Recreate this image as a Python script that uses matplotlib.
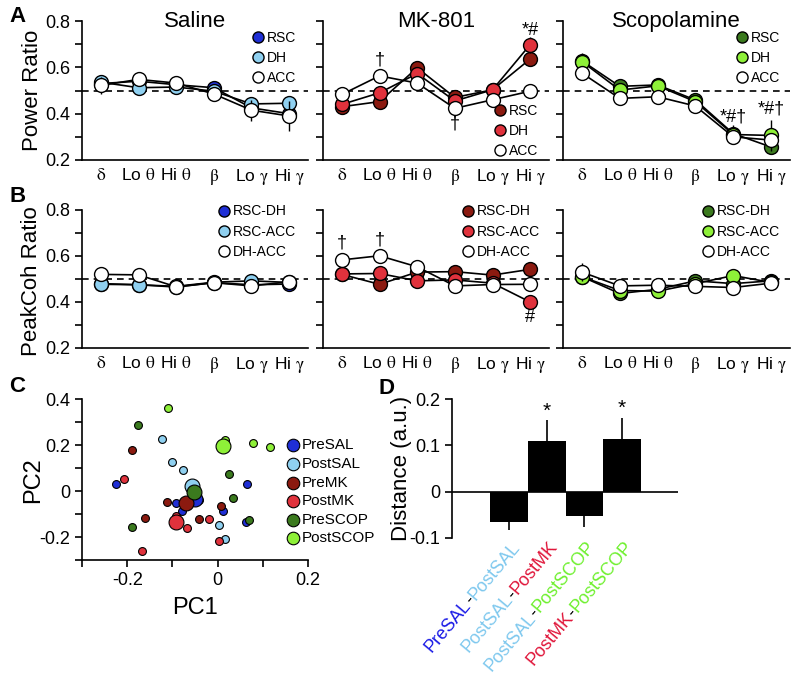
import numpy as np
import matplotlib
matplotlib.use('Agg')
import matplotlib.pyplot as plt
from matplotlib.lines import Line2D
from matplotlib.transforms import IdentityTransform

plt.rcParams['font.family'] = ['Liberation Sans', 'DejaVu Sans']
plt.rcParams['mathtext.fontset'] = 'stix'
plt.rcParams['axes.unicode_minus'] = False
plt.rcParams['axes.linewidth'] = 1.2

bands = [r'$\mathrm{\delta}$', r'Lo $\mathrm{\theta}$', r'Hi $\mathrm{\theta}$',
         r'$\mathrm{\beta}$', r'Lo $\mathrm{\gamma}$', r'Hi $\mathrm{\gamma}$']

# A: power ratio
sal_rsc = [0.530, 0.540, 0.525, 0.512, 0.425, 0.400]
sal_dh = [0.536, 0.512, 0.515, 0.497, 0.442, 0.445]
sal_acc = [0.522, 0.548, 0.532, 0.485, 0.415, 0.390]
sal_acc_err = [0.035, 0.02, 0.02, 0.02, 0.045, 0.065]
mk_rsc = [0.430, 0.452, 0.598, 0.470, 0.503, 0.636]
mk_dh = [0.440, 0.490, 0.573, 0.455, 0.503, 0.698]
mk_acc = [0.483, 0.563, 0.532, 0.423, 0.460, 0.497]
mk_dh_err = [0.02, 0.02, 0.02, 0.02, 0.02, 0.035]
scop_rsc = [0.628, 0.518, 0.524, 0.459, 0.314, 0.256]
scop_dh = [0.625, 0.502, 0.520, 0.452, 0.310, 0.306]
scop_acc = [0.575, 0.466, 0.473, 0.433, 0.300, 0.286]
scop_dh_err = [0.035, 0.02, 0.02, 0.02, 0.04, 0.065]

# B: peak coherence ratio
sal_rsc_dh = [0.480, 0.475, 0.465, 0.484, 0.475, 0.478]
sal_rsc_acc = [0.477, 0.475, 0.468, 0.486, 0.492, 0.485]
sal_dh_acc = [0.520, 0.518, 0.466, 0.484, 0.470, 0.488]
mk_rsc_dh = [0.520, 0.477, 0.530, 0.532, 0.517, 0.542]
mk_rsc_acc = [0.522, 0.524, 0.492, 0.496, 0.482, 0.400]
mk_dh_acc = [0.583, 0.601, 0.553, 0.470, 0.476, 0.477]
scop_rsc_dh = [0.510, 0.437, 0.455, 0.492, 0.480, 0.492]
scop_rsc_acc = [0.510, 0.450, 0.447, 0.480, 0.515, 0.485]
scop_dh_acc = [0.530, 0.470, 0.473, 0.468, 0.463, 0.482]
scop_dh_acc_err = [0.04, 0.02, 0.02, 0.02, 0.02, 0.02]
zero_err = [0, 0, 0, 0, 0, 0]

# C: PCA scatter
pre_sal_x = [-0.224, 0.064, 0.013, -0.093, -0.079, -0.042, 0.063]
pre_sal_y = [0.029, 0.029, -0.088, -0.053, -0.085, -0.041, -0.136]
post_sal_x = [-0.124, -0.101, -0.076, 0.004, 0.017]
post_sal_y = [0.225, 0.127, 0.093, -0.146, -0.209]
pre_mk_x = [-0.189, -0.111, -0.161, -0.041, 0.007]
pre_mk_y = [0.178, -0.048, -0.117, -0.121, -0.067]
post_mk_x = [-0.206, -0.019, -0.067, -0.168, 0.004, -0.093]
post_mk_y = [0.054, -0.121, -0.161, -0.263, -0.219, -0.107]
pre_scop_x = [-0.176, 0.026, 0.035, 0.069, -0.189]
pre_scop_y = [0.288, 0.073, -0.031, -0.128, -0.155]
post_scop_x = [-0.110, 0.017, 0.079, 0.117]
post_scop_y = [0.363, 0.222, 0.207, 0.193]
centroid_x = [-0.050, -0.057, -0.070, -0.091, -0.052, 0.011]
centroid_y = [-0.035, 0.020, -0.053, -0.136, -0.004, 0.197]
groups = ['PreSAL', 'PostSAL', 'PreMK', 'PostMK', 'PreSCOP', 'PostSCOP']

# D: distances
d_vals = [-0.065, 0.110, -0.053, 0.113]
d_err = [0.017, 0.045, 0.024, 0.047]
d_sig = ['', '*', '', '*']
d_labels = [[('PreSAL', '#1a1ae6'), ('-', 'k'), ('PostSAL', '#7ec8ee')],
            [('PostSAL', '#7ec8ee'), ('-', 'k'), ('PostMK', '#e0163a')],
            [('PostSAL', '#7ec8ee'), ('-', 'k'), ('PostSCOP', '#6ef02e')],
            [('PostMK', '#e0163a'), ('-', 'k'), ('PostSCOP', '#6ef02e')]]

sal_cols = ['#1f2fd6', '#8fd0f0', 'white']
mk_cols = ['#8b1a10', '#e0323c', 'white']
scop_cols = ['#3b7a1e', '#8ef038', 'white']

W, H = 800, 679
fig = plt.figure(figsize=(8, 6.79), dpi=100)


def axes_px(left, top, right, bottom):
    return fig.add_axes([left / W, 1 - bottom / H, (right - left) / W, (bottom - top) / H])


def band_panel(ax, series, errs, colors, names, leg_xy, marks, show_y):
    x = np.arange(len(bands))
    ax.axhline(0.5, color='k', lw=1.2, ls=(0, (4, 3)), zorder=1)
    for y, e, c in zip(series, errs, colors):
        ax.errorbar(x, y, yerr=e, fmt='none', ecolor='k', elinewidth=1, capsize=0, zorder=3)
        ax.plot(x, y, '-o', color='k', lw=1.2, mfc=c, mec='k', mew=1, ms=10, zorder=3)
    for y, i, s, off in marks:
        ax.annotate(s, (x[i], y[i]), xytext=(0, off), textcoords='offset pixels',
                    ha='center', va='center', fontsize=13)
    ax.set_xlim(-0.5, 5.5)
    ax.set_ylim(0.2, 0.8)
    ax.set_yticks([0.2, 0.4, 0.6, 0.8])
    ax.set_yticks([0.3, 0.5, 0.7], minor=True)
    ax.set_xticks(x)
    ax.set_xticklabels(bands, fontsize=12.5)
    ax.tick_params(axis='x', length=0, pad=5)
    ax.tick_params(axis='y', which='both', direction='out', length=5, width=1.2, labelsize=13)
    if not show_y:
        ax.set_yticklabels([])
    for s in ['top', 'right']:
        ax.spines[s].set_visible(False)
    handles = [Line2D([], [], ls='none', marker='o', ms=8, mfc=c, mec='k', mew=1) for c in colors]
    ax.legend(handles, names, loc='upper left', bbox_to_anchor=leg_xy, frameon=False,
              fontsize=10, borderpad=0, borderaxespad=0, handlelength=0.8,
              handletextpad=0.2, labelspacing=0.45)


pw_names = ['RSC', 'DH', 'ACC']
coh_names = ['RSC-DH', 'RSC-ACC', 'DH-ACC']
tops = [(82, 308), (323, 549), (563, 790)]

axA = [axes_px(l, 21, r, 160) for l, r in tops]
band_panel(axA[0], [sal_rsc, sal_dh, sal_acc], [zero_err, zero_err, sal_acc_err], sal_cols,
           pw_names, (0.755, 0.93), [], True)
band_panel(axA[1], [mk_rsc, mk_dh, mk_acc], [zero_err, mk_dh_err, zero_err], mk_cols,
           pw_names, (0.76, 0.405),
           [(mk_acc, 1, '†', 16), (mk_acc, 3, '†', -16), (mk_dh, 5, '*#', 14)], False)
band_panel(axA[2], [scop_rsc, scop_dh, scop_acc], [zero_err, scop_dh_err, zero_err], scop_cols,
           pw_names, (0.765, 0.93),
           [(scop_rsc, 4, '*#†', 17), (scop_dh, 5, '*#†', 26)], False)
for ax, t in zip(axA, ['Saline', 'MK-801', 'Scopolamine']):
    ax.text(0.5, 1.0, t, transform=ax.transAxes, ha='center', va='center', fontsize=16)

axB = [axes_px(l, 210, r, 348) for l, r in tops]
band_panel(axB[0], [sal_rsc_dh, sal_rsc_acc, sal_dh_acc], [zero_err] * 3, sal_cols,
           coh_names, (0.605, 1.04), [], True)
band_panel(axB[1], [mk_rsc_dh, mk_rsc_acc, mk_dh_acc], [zero_err] * 3, mk_cols,
           coh_names, (0.618, 1.04),
           [(mk_dh_acc, 0, '†', 17), (mk_dh_acc, 1, '†', 16), (mk_rsc_acc, 5, '#', -15)], False)
band_panel(axB[2], [scop_rsc_dh, scop_rsc_acc, scop_dh_acc], [zero_err, zero_err, scop_dh_acc_err],
           scop_cols, coh_names, (0.615, 1.04), [], False)

fig.text(32 / W, 1 - 90 / H, 'Power Ratio', rotation=90, ha='center', va='center', fontsize=16)
fig.text(32 / W, 1 - 281 / H, 'PeakCoh Ratio', rotation=90, ha='center', va='center', fontsize=16)

# C
axC = axes_px(82, 399, 308, 560)
grp_cols = ['#1f2fd6', '#8fd0f0', '#8b1a10', '#e0323c', '#3b7a1e', '#8ef038']
pts = [(pre_sal_x, pre_sal_y), (post_sal_x, post_sal_y), (pre_mk_x, pre_mk_y),
       (post_mk_x, post_mk_y), (pre_scop_x, pre_scop_y), (post_scop_x, post_scop_y)]
for (px, py), c, g in zip(pts, grp_cols, groups):
    axC.scatter(px, py, s=32, color=c, edgecolor='k', linewidth=0.8, zorder=2, label=g)
for cx, cy, c in zip(centroid_x, centroid_y, grp_cols):
    axC.scatter([cx], [cy], s=115, color=c, edgecolor='k', linewidth=0.8, zorder=3)
axC.set_xlim(-0.3, 0.2)
axC.set_ylim(-0.3, 0.4)
axC.set_xticks([-0.3, -0.2, -0.1, 0, 0.1, 0.2])
axC.set_xticklabels(['', '-0.2', '', '0', '', '0.2'])
axC.set_yticks([-0.3, -0.2, -0.1, 0, 0.1, 0.2, 0.3, 0.4])
axC.set_yticklabels(['', '-0.2', '', '0', '', '0.2', '', '0.4'])
axC.tick_params(direction='out', length=5, width=1.2, labelsize=13)
for s in ['top', 'right']:
    axC.spines[s].set_visible(False)
axC.set_xlabel('PC1', fontsize=17, labelpad=6)
fig.text(33 / W, 1 - 480 / H, 'PC2', rotation=90, ha='center', va='center', fontsize=17)
axC.legend(loc='upper left', bbox_to_anchor=(0.905, 0.755), frameon=False, fontsize=11,
           borderpad=0, borderaxespad=0, handlelength=0.8, handletextpad=0.2,
           labelspacing=0.3, scatterpoints=1, markerscale=1.6)

# D
axD = axes_px(452, 399, 678, 538)
xd = np.arange(len(d_vals))
axD.bar(xd, d_vals, width=1.0, color='k', zorder=2)
lower = [e if v < 0 else 0 for v, e in zip(d_vals, d_err)]
upper = [e if v > 0 else 0 for v, e in zip(d_vals, d_err)]
axD.errorbar(xd, d_vals, yerr=[lower, upper], fmt='none', ecolor='k', elinewidth=1.2, capsize=0)
for i, s in enumerate(d_sig):
    if s:
        axD.annotate(s, (xd[i], d_vals[i] + d_err[i]), xytext=(0, 9), textcoords='offset pixels',
                     ha='center', va='center', fontsize=15)
axD.axhline(0, color='k', lw=1.2)
axD.set_xlim(-1.52, 4.49)
axD.set_ylim(-0.1, 0.2)
axD.set_yticks([-0.1, 0, 0.1, 0.2])
axD.set_yticklabels(['-0.1', '0', '0.1', '0.2'])
axD.set_xticks([])
axD.tick_params(direction='out', length=5, width=1.2, labelsize=13)
for s in ['top', 'right', 'bottom']:
    axD.spines[s].set_visible(False)
fig.text(401 / W, 1 - 468 / H, 'Distance (a.u.)', rotation=90, ha='center', va='center', fontsize=16)

# multicolour rotated labels under the bars
fig.canvas.draw()
rend = fig.canvas.get_renderer()
ang = np.deg2rad(50)
for i, parts in enumerate(d_labels):
    widths = []
    for s, c in parts:
        t = fig.text(0, 0, s, fontsize=13)
        widths.append(t.get_window_extent(rend).width)
        t.remove()
    ex, ey = axD.transData.transform((xd[i], -0.1))
    ex, ey = ex + 8, ey - 6
    sx = ex - sum(widths) * np.cos(ang)
    sy = ey - sum(widths) * np.sin(ang)
    cum = 0
    for (s, c), w in zip(parts, widths):
        fig.text(sx + cum * np.cos(ang), sy + cum * np.sin(ang), s, color=c, fontsize=13,
                 rotation=50, rotation_mode='anchor', ha='left', va='center',
                 transform=IdentityTransform())
        cum += w

for lab, (px, py) in zip('ABCD', [(18, 17), (18, 196), (17, 387), (387, 388)]):
    fig.text(px / W, 1 - py / H, lab, fontsize=16, fontweight='bold', ha='center', va='center')

fig.savefig('out.png', dpi=100)
